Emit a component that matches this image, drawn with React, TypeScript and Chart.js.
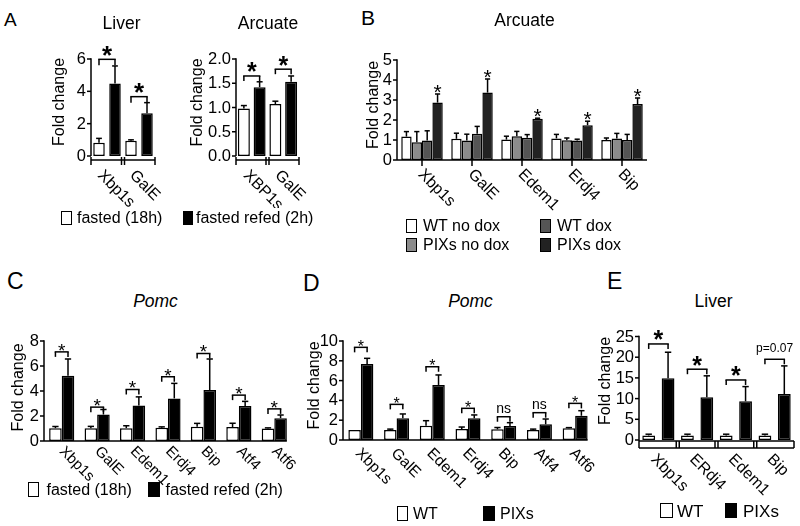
import React, { useEffect, useRef } from "react";
import { Chart, registerables } from "chart.js";

Chart.register(...registerables);

const FONT = "'Liberation Sans', Arial, Helvetica, sans-serif";

// ---------- Panel A : Liver ----------
const liverGenes = ["Xbp1s", "GalE"];
const liverFasted = [0.82, 0.95];
const liverFastedErr = [0.27, 0.05];
const liverRefed = [4.49, 2.64];
const liverRefedErr = [1.08, 0.66];
const liverBracket = [5.98, 3.67];
const liverSig = ["*", "*"];
const liverTicks = [0, 2, 4, 6];

// ---------- Panel A : Arcuate ----------
const arcGenes = ["XBP1s", "GalE"];
const arcFasted = [0.98, 1.07];
const arcFastedErr = [0.06, 0.06];
const arcRefed = [1.42, 1.53];
const arcRefedErr = [0.11, 0.12];
const arcBracket = [1.65, 1.79];
const arcSig = ["*", "*"];
const arcTicks = [0, 0.5, 1.0, 1.5, 2.0];

// ---------- Panel B : Arcuate ----------
const bGenes = ["Xbp1s", "GalE", "Edem1", "Erdj4", "Bip"];
const bWtNoDox = [1.17, 1.06, 1.02, 1.08, 1.0];
const bWtNoDoxErr = [0.25, 0.28, 0.17, 0.2, 0.1];
const bPixNoDox = [0.89, 0.97, 1.19, 0.99, 1.08];
const bPixNoDoxErr = [0.53, 0.32, 0.24, 0.11, 0.25];
const bWtDox = [0.97, 1.31, 1.11, 0.97, 1.0];
const bWtDoxErr = [0.49, 0.37, 0.16, 0.07, 0.28];
const bPixDox = [2.87, 3.37, 2.06, 1.74, 2.8];
const bPixDoxErr = [0.43, 0.68, 0.03, 0.2, 0.3];
const bTicks = [0, 1, 2, 3, 4, 5];

// ---------- Panel C : Pomc fasted/refed ----------
const cGenes = ["Xbp1s", "GalE", "Edem1", "Erdj4", "Bip", "Atf4", "Atf6"];
const cFasted = [1.03, 1.03, 1.03, 1.06, 1.14, 1.12, 1.0];
const cFastedErr = [0.13, 0.14, 0.19, 0.07, 0.27, 0.3, 0.05];
const cRefed = [5.23, 2.12, 2.85, 3.41, 4.08, 2.8, 1.83];
const cRefedErr = [1.33, 0.4, 0.68, 1.2, 2.48, 0.37, 0.25];
const cBracket = [7.13, 2.71, 4.12, 5.14, 7.0, 3.67, 2.57];
const cSig = ["*", "*", "*", "*", "*", "*", "*"];
const cTicks = [0, 2, 4, 6, 8];

// ---------- Panel D : Pomc WT/PIXs ----------
const dGenes = ["Xbp1s", "GalE", "Edem1", "Erdj4", "Bip", "Atf4", "Atf6"];
const dWT = [1.0, 1.0, 1.44, 1.11, 1.08, 1.0, 1.18];
const dWTErr = [0, 0.1, 0.51, 0.2, 0.18, 0.1, 0.07];
const dPIXs = [7.68, 2.19, 5.56, 2.19, 1.41, 1.59, 2.45];
const dPIXsErr = [0.57, 0.44, 1.01, 0.34, 0.34, 0.53, 0.51];
const dBracket = [9.36, 3.6, 7.4, 3.2, 2.35, 2.76, 3.7];
const dSig = ["*", "*", "*", "*", "ns", "ns", "*"];
const dTicks = [0, 2, 4, 6, 8, 10];

// ---------- Panel E : Liver WT/PIXs ----------
const eGenes = ["Xbp1s", "ERdj4", "Edem1", "Bip"];
const eWT = [1.1, 1.1, 1.1, 1.1];
const eWTErr = [0.3, 0.3, 0.3, 0.3];
const ePIXs = [14.9, 10.3, 9.35, 11.1];
const ePIXsErr = [6.3, 5.2, 3.55, 6.8];
const eBracket = [23.2, 17.1, 14.5, 19.5];
const eSig = ["*", "*", "*", "p=0.07"];
const eTicks = [0, 5, 10, 15, 20, 25];

type Series = { label: string; data: number[]; err: number[]; fill: string };
type Panel = {
  key: string;
  labels: string[];
  series: Series[];
  ticks: number[];
  digits: number;
  region: { x: number; y: number; w: number; h: number };
  area: { l: number; t: number; r: number; b: number };
  catPct: number;
  barPct: number;
  axis: "bracket" | "ticks" | "line" | "box";
  lab: { dx: number; dy: number; size: number };
  yTitle: { x: number; y: number };
  bracket?: {
    y: number[];
    text: string[];
    leg: number;
    star: number;
    starGap: number;
    txt: number;
    txtGap: number;
    bold: boolean;
  };
  topStars?: { series: number; size: number; gap: number };
};

const panels: Panel[] = [
  {
    key: "liver",
    labels: liverGenes,
    series: [
      { label: "fasted (18h)", data: liverFasted, err: liverFastedErr, fill: "#ffffff" },
      { label: "fasted refed (2h)", data: liverRefed, err: liverRefedErr, fill: "#000000" },
    ],
    ticks: liverTicks,
    digits: 0,
    region: { x: 40, y: 30, w: 135, h: 178 },
    area: { l: 91, t: 59, r: 155, b: 156 },
    catPct: 1,
    barPct: 0.72,
    axis: "bracket",
    lab: { dx: -7, dy: 17, size: 16 },
    yTitle: { x: 60, y: 102 },
    bracket: { y: liverBracket, text: liverSig, leg: 6, star: 26, starGap: 10.5, txt: 12, txtGap: 10, bold: true },
  },
  {
    key: "arc",
    labels: arcGenes,
    series: [
      { label: "fasted (18h)", data: arcFasted, err: arcFastedErr, fill: "#ffffff" },
      { label: "fasted refed (2h)", data: arcRefed, err: arcRefedErr, fill: "#000000" },
    ],
    ticks: arcTicks,
    digits: 1,
    region: { x: 180, y: 30, w: 140, h: 178 },
    area: { l: 236, t: 59, r: 299, b: 156 },
    catPct: 1,
    barPct: 0.76,
    axis: "bracket",
    lab: { dx: -6, dy: 17, size: 16 },
    yTitle: { x: 197.5, y: 102.5 },
    bracket: { y: arcBracket, text: arcSig, leg: 5, star: 25, starGap: 10, txt: 12, txtGap: 10, bold: true },
  },
  {
    key: "b",
    labels: bGenes,
    series: [
      { label: "WT no dox", data: bWtNoDox, err: bWtNoDoxErr, fill: "#ffffff" },
      { label: "PIXs no dox", data: bPixNoDox, err: bPixNoDoxErr, fill: "#8c8c8c" },
      { label: "WT dox", data: bWtDox, err: bWtDoxErr, fill: "#555555" },
      { label: "PIXs dox", data: bPixDox, err: bPixDoxErr, fill: "#222222" },
    ],
    ticks: bTicks,
    digits: 0,
    region: { x: 355, y: 40, w: 310, h: 175 },
    area: { l: 397, t: 60, r: 647, b: 160 },
    catPct: 0.83,
    barPct: 1,
    axis: "ticks",
    lab: { dx: -1.5, dy: 12, size: 16 },
    yTitle: { x: 373.5, y: 105 },
    topStars: { series: 3, size: 21, gap: 7.5 },
  },
  {
    key: "c",
    labels: cGenes,
    series: [
      { label: "fasted (18h)", data: cFasted, err: cFastedErr, fill: "#ffffff" },
      { label: "fasted refed (2h)", data: cRefed, err: cRefedErr, fill: "#000000" },
    ],
    ticks: cTicks,
    digits: 0,
    region: { x: 0, y: 320, w: 310, h: 168 },
    area: { l: 44, t: 341, r: 292, b: 441 },
    catPct: 0.71,
    barPct: 1,
    axis: "line",
    lab: { dx: 0, dy: 8, size: 15 },
    yTitle: { x: 18.5, y: 387.5 },
    bracket: { y: cBracket, text: cSig, leg: 5, star: 19, starGap: 6, txt: 13, txtGap: 7, bold: false },
  },
  {
    key: "d",
    labels: dGenes,
    series: [
      { label: "WT", data: dWT, err: dWTErr, fill: "#ffffff" },
      { label: "PIXs", data: dPIXs, err: dPIXsErr, fill: "#000000" },
    ],
    ticks: dTicks,
    digits: 0,
    region: { x: 300, y: 320, w: 305, h: 180 },
    area: { l: 343, t: 341, r: 593, b: 440 },
    catPct: 0.7,
    barPct: 1,
    axis: "line",
    lab: { dx: -3, dy: 11, size: 15.5 },
    yTitle: { x: 315, y: 385.5 },
    bracket: { y: dBracket, text: dSig, leg: 5, star: 16, starGap: 4.5, txt: 14, txtGap: 7.5, bold: false },
  },
  {
    key: "e",
    labels: eGenes,
    series: [
      { label: "WT", data: eWT, err: eWTErr, fill: "#ffffff" },
      { label: "PIXs", data: ePIXs, err: ePIXsErr, fill: "#000000" },
    ],
    ticks: eTicks,
    digits: 0,
    region: { x: 590, y: 320, w: 210, h: 182 },
    area: { l: 639, t: 336.5, r: 794, b: 440 },
    catPct: 1,
    barPct: 0.66,
    axis: "box",
    lab: { dx: -5, dy: 17, size: 16 },
    yTitle: { x: 605.5, y: 381 },
    bracket: { y: eBracket, text: eSig, leg: 5, star: 25, starGap: 10, txt: 12, txtGap: 11, bold: true },
  },
];

function seg(ctx: CanvasRenderingContext2D, x1: number, y1: number, x2: number, y2: number) {
  ctx.beginPath();
  ctx.moveTo(x1, y1);
  ctx.lineTo(x2, y2);
  ctx.stroke();
}

function star(ctx: CanvasRenderingContext2D, x: number, cy: number, size: number, bold: boolean) {
  ctx.font = `${bold ? "bold " : ""}${size}px ${FONT}`;
  ctx.textAlign = "center";
  ctx.textBaseline = "alphabetic";
  ctx.fillText("*", x, cy + 0.575 * size);
}

function makePlugin(p: Panel) {
  return {
    id: "figure-" + p.key,
    afterDatasetsDraw(chart: any) {
      const ctx: CanvasRenderingContext2D = chart.ctx;
      const ys = chart.scales.y;
      const xs = chart.scales.x;
      const L = chart.chartArea.left;
      const R = chart.chartArea.right;
      const ox = p.region.x;
      const oy = p.region.y;
      const z = ys.getPixelForValue(0);
      const tY = ys.getPixelForValue(p.ticks[p.ticks.length - 1]);
      const n = p.labels.length;
      ctx.save();
      ctx.strokeStyle = "#000";
      ctx.fillStyle = "#000";
      ctx.lineWidth = 1.5;

      // error bars (upper only)
      p.series.forEach((s, si) => {
        const meta = chart.getDatasetMeta(si);
        meta.data.forEach((el: any, j: number) => {
          const e = s.err[j];
          if (!e) return;
          const y1 = ys.getPixelForValue(s.data[j]);
          const y2 = ys.getPixelForValue(s.data[j] + e);
          const cw = el.width * 0.5;
          seg(ctx, el.x, y1, el.x, y2);
          seg(ctx, el.x - cw / 2, y2, el.x + cw / 2, y2);
        });
      });

      // y axis
      const yBottom = p.axis === "box" ? z + 8 : z;
      seg(ctx, L, tY - 0.75, L, yBottom);
      ctx.font = `16.5px ${FONT}`;
      ctx.textAlign = "right";
      ctx.textBaseline = "middle";
      p.ticks.forEach((v) => {
        const y = ys.getPixelForValue(v);
        seg(ctx, L - 4, y, L, y);
        ctx.fillText(v.toFixed(p.digits), L - 5, y + 0.5);
      });

      // y title
      ctx.font = `16px ${FONT}`;
      ctx.save();
      ctx.translate(p.yTitle.x - ox, p.yTitle.y - oy);
      ctx.rotate(-Math.PI / 2);
      ctx.textAlign = "center";
      ctx.textBaseline = "middle";
      ctx.fillText("Fold change", 0, 0);
      ctx.restore();

      // x axis
      const cw = (R - L) / n;
      if (p.axis === "bracket") {
        const y0 = z + 4;
        seg(ctx, L, y0, R, y0);
        seg(ctx, L, y0 - 3, L, y0 + 5);
        seg(ctx, R, y0 - 3, R, y0 + 5);
        for (let k = 1; k < n; k++) {
          const sx = L + k * cw;
          seg(ctx, sx - 1.5, y0 - 3, sx - 1.5, y0 + 5);
          seg(ctx, sx + 1.5, y0 - 3, sx + 1.5, y0 + 5);
        }
      } else if (p.axis === "box") {
        const y0 = z + 1;
        const y1 = z + 8;
        seg(ctx, L, y0, R, y0);
        seg(ctx, L, y1, R, y1);
        seg(ctx, R, y0, R, y1);
        for (let k = 1; k < n; k++) {
          const sx = L + k * cw;
          seg(ctx, sx - 1.5, y0, sx - 1.5, y1);
          seg(ctx, sx + 1.5, y0, sx + 1.5, y1);
        }
      } else if (p.axis === "ticks") {
        seg(ctx, L, z, R, z);
        for (let j = 0; j < n; j++) {
          const cx = xs.getPixelForValue(j);
          seg(ctx, cx, z, cx, z + 6);
        }
      } else {
        const lastMeta = chart.getDatasetMeta(p.series.length - 1);
        const el: any = lastMeta.data[n - 1];
        seg(ctx, L, z, el.x + el.width / 2, z);
      }

      // x labels, rotated 45 degrees clockwise
      ctx.font = `${p.lab.size}px ${FONT}`;
      ctx.textAlign = "left";
      ctx.textBaseline = "middle";
      p.labels.forEach((lab, j) => {
        const cx = xs.getPixelForValue(j);
        ctx.save();
        ctx.translate(cx + p.lab.dx, z + p.lab.dy);
        ctx.rotate(Math.PI / 4);
        ctx.fillText(lab, 0, 0);
        ctx.restore();
      });

      // significance brackets
      if (p.bracket) {
        const b = p.bracket;
        const m0 = chart.getDatasetMeta(0);
        const m1 = chart.getDatasetMeta(1);
        b.y.forEach((v, j) => {
          const xl = m0.data[j].x;
          const xr = m1.data[j].x;
          const yb = ys.getPixelForValue(v);
          seg(ctx, xl, yb + b.leg, xl, yb);
          seg(ctx, xl - 0.75, yb, xr + 0.75, yb);
          seg(ctx, xr, yb, xr, yb + b.leg);
          const mx = (xl + xr) / 2;
          const t = b.text[j];
          if (t === "*") {
            star(ctx, mx, yb - b.starGap, b.star, b.bold);
          } else {
            ctx.font = `${b.txt}px ${FONT}`;
            ctx.textAlign = "center";
            ctx.textBaseline = "middle";
            ctx.fillText(t, mx, yb - b.txtGap);
          }
        });
      }

      // stars above a series (panel B)
      if (p.topStars) {
        const s = p.series[p.topStars.series];
        const meta = chart.getDatasetMeta(p.topStars.series);
        meta.data.forEach((el: any, j: number) => {
          const y = ys.getPixelForValue(s.data[j] + s.err[j]);
          star(ctx, el.x, y - p.topStars!.gap, p.topStars!.size, false);
        });
      }
      ctx.restore();
    },
  };
}

function PanelChart({ p }: { p: Panel }) {
  const ref = useRef<HTMLCanvasElement>(null);
  useEffect(() => {
    const canvas = ref.current;
    if (!canvas) return;
    const chart = new Chart(canvas, {
      type: "bar",
      data: {
        labels: p.labels,
        datasets: p.series.map((s) => ({
          label: s.label,
          data: s.data,
          backgroundColor: s.fill,
          borderColor: "#000000",
          borderWidth: 1.5,
          borderSkipped: false,
          categoryPercentage: p.catPct,
          barPercentage: p.barPct,
        })),
      },
      options: {
        responsive: false,
        animation: false,
        devicePixelRatio: 1,
        events: [],
        layout: {
          padding: {
            left: p.area.l - p.region.x,
            top: p.area.t - p.region.y,
            right: p.region.x + p.region.w - p.area.r,
            bottom: p.region.y + p.region.h - p.area.b,
          },
        },
        scales: {
          x: { display: false, offset: true, grid: { display: false } },
          y: { display: false, min: 0, max: p.ticks[p.ticks.length - 1] },
        },
        plugins: {
          legend: { display: false },
          tooltip: { enabled: false },
          title: { display: false },
        },
      } as any,
      plugins: [makePlugin(p)],
    });
    return () => chart.destroy();
  }, [p]);
  return (
    <canvas
      ref={ref}
      width={p.region.w}
      height={p.region.h}
      style={{ position: "absolute", left: p.region.x, top: p.region.y, width: p.region.w, height: p.region.h }}
    />
  );
}

function Txt(props: {
  x: number;
  y: number;
  size: number;
  text: string;
  center?: boolean;
  italic?: boolean;
}) {
  const { x, y, size, text, center, italic } = props;
  return (
    <div
      style={{
        position: "absolute",
        left: center ? x - 150 : x,
        width: center ? 300 : undefined,
        top: y - size / 2,
        fontSize: size,
        lineHeight: `${size}px`,
        textAlign: center ? "center" : "left",
        fontStyle: italic ? "italic" : "normal",
        whiteSpace: "nowrap",
        color: "#000",
      }}
    >
      {text}
    </div>
  );
}

function Sq(props: { x: number; y: number; w: number; h: number; fill: string }) {
  const { x, y, w, h, fill } = props;
  return (
    <div
      style={{
        position: "absolute",
        left: x,
        top: y,
        width: w,
        height: h,
        boxSizing: "border-box",
        border: "1.5px solid #000",
        background: fill,
      }}
    />
  );
}

export default function App() {
  return (
    <div
      style={{
        position: "fixed",
        left: 0,
        top: 0,
        width: 800,
        height: 526,
        background: "#ffffff",
        overflow: "hidden",
        fontFamily: FONT,
      }}
    >
      {panels.map((p) => (
        <PanelChart key={p.key} p={p} />
      ))}

      {/* panel letters */}
      <Txt x={4} y={19} size={19} text="A" />
      <Txt x={361} y={17.5} size={21} text="B" />
      <Txt x={7} y={281.5} size={23} text="C" />
      <Txt x={303} y={283} size={23} text="D" />
      <Txt x={607} y={281.5} size={23} text="E" />

      {/* titles */}
      <Txt x={121.5} y={24} size={17.5} text="Liver" center />
      <Txt x={268} y={24} size={17.5} text="Arcuate" center />
      <Txt x={524.5} y={20.5} size={17.5} text="Arcuate" center />
      <Txt x={155.5} y={301.5} size={17.5} text="Pomc" center italic />
      <Txt x={470.5} y={301.5} size={17.5} text="Pomc" center italic />
      <Txt x={713.5} y={301.5} size={17.5} text="Liver" center />

      {/* legend A */}
      <Sq x={61} y={211} w={11} h={14} fill="#ffffff" />
      <Txt x={77} y={218} size={16} text="fasted (18h)" />
      <Sq x={183} y={211} w={10} h={14} fill="#000000" />
      <Txt x={196} y={218} size={16} text="fasted refed (2h)" />

      {/* legend B */}
      <Sq x={406} y={219} w={11} h={14} fill="#ffffff" />
      <Txt x={423} y={226} size={16} text="WT no dox" />
      <Sq x={406} y={238} w={11} h={14} fill="#8c8c8c" />
      <Txt x={423} y={245} size={16} text="PIXs no dox" />
      <Sq x={540} y={219} w={11} h={14} fill="#555555" />
      <Txt x={557} y={226} size={16} text="WT dox" />
      <Sq x={540} y={238} w={11} h={14} fill="#222222" />
      <Txt x={557} y={245} size={16} text="PIXs dox" />

      {/* legend C */}
      <Sq x={28} y={482} w={11} h={15} fill="#ffffff" />
      <Txt x={46.5} y={489.5} size={16} text="fasted (18h)" />
      <Sq x={148} y={482} w={12} h={15} fill="#000000" />
      <Txt x={165.5} y={489.5} size={16} text="fasted refed (2h)" />

      {/* legend D */}
      <Sq x={397} y={506} w={11} h={15} fill="#ffffff" />
      <Txt x={413} y={513.5} size={16} text="WT" />
      <Sq x={483} y={506} w={12} h={15} fill="#000000" />
      <Txt x={500} y={513.5} size={16} text="PIXs" />

      {/* legend E */}
      <Sq x={660} y={503} w={13} h={15} fill="#ffffff" />
      <Txt x={677} y={511} size={17} text="WT" />
      <Sq x={725} y={503} w={12} h={15} fill="#000000" />
      <Txt x={743} y={511} size={17} text="PIXs" />
    </div>
  );
}
